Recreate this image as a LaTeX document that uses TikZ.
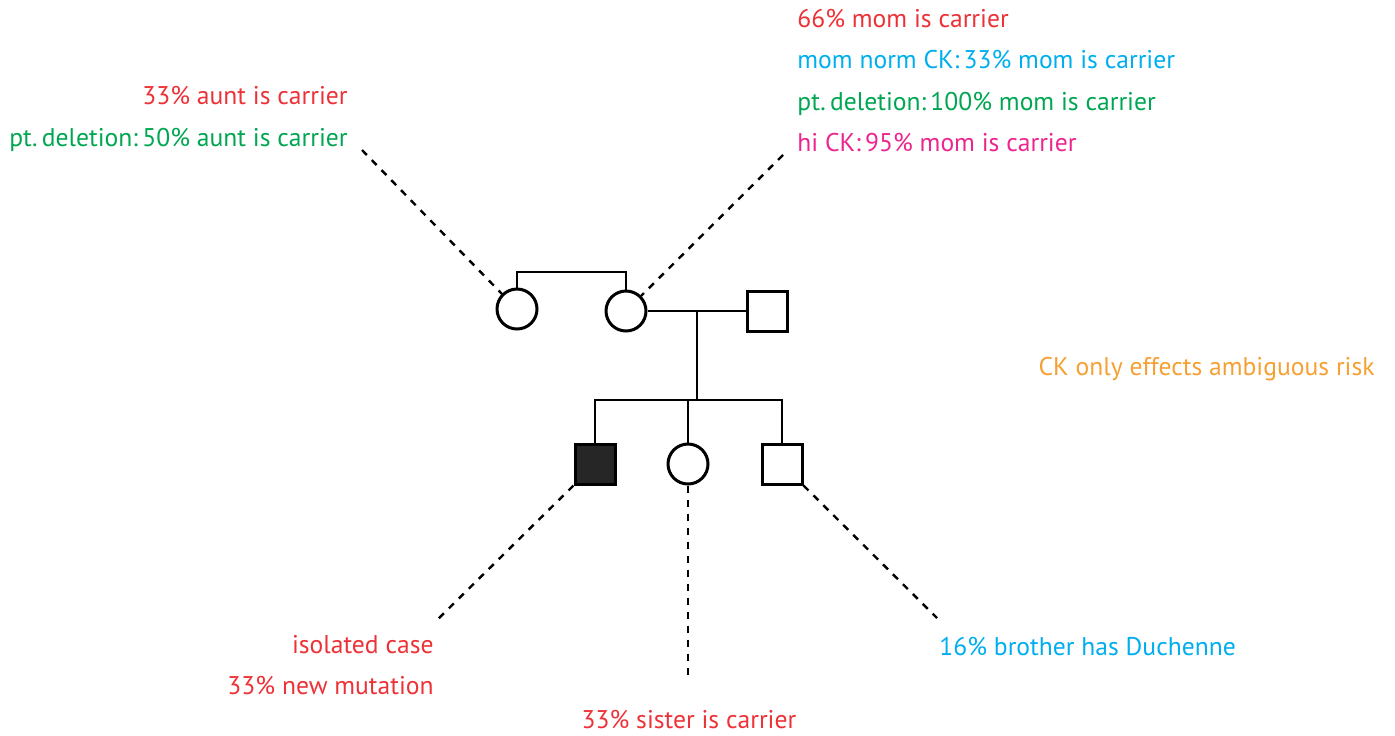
\documentclass[tikz,border=0pt]{standalone}
\usepackage{fontspec}
\setmainfont{PT Sans}
\usepackage{tikz}
\usetikzlibrary{positioning}

\definecolor{riskred}{RGB}{237,50,55}
\definecolor{riskblue}{RGB}{0,174,239}
\definecolor{riskgreen}{RGB}{0,166,81}
\definecolor{riskpink}{RGB}{236,38,143}
\definecolor{riskorange}{RGB}{246,160,52}

\tikzset{
  female/.style={circle,draw,line width=1.5pt,minimum size=20pt,inner sep=0pt},
  male/.style={rectangle,draw,line width=1.5pt,minimum size=20pt,inner sep=0pt},
  affected/.style={male,fill=black!85},
  line/.style={line width=1.2pt},
  pointer/.style={line width=1.2pt,dash pattern=on 3.5pt off 3.5pt},
  note/.style={inner sep=0pt,font=\fontsize{12.8}{15}\selectfont}
}

\begin{document}
\begin{tikzpicture}[x=0.5pt,y=-0.5pt]
    \useasboundingbox (0,0) rectangle (1395,735);

    % people
    \node[female]   (aunt)    at (517,309) {};
    \node[female]   (mom)     at (626,311) {};
    \node[male]     (dad)     at (767,311) {};
    \node[affected] (son)     at (595,464) {};
    \node[female]   (sister)  at (688,464) {};
    \node[male]     (brother) at (782,464) {};

    \coordinate (sibbar)  at (570,272);
    \coordinate (mate)    at (697,311);
    \coordinate (sibship) at (697,400);

    % pedigree lines
    \draw[line] (aunt.north) |- (sibbar) -| (mom.north);
    \draw[line] (mom) -- (dad);
    \draw[line] (mate) -- (sibship);
    \draw[line] (son.north) |- (sibship) -| (brother.north);
    \draw[line] (sister.north) -- (sister.north |- sibship);

    % notes
    \node[note,text=riskred,anchor=base east]   (auntA) at (348,104) {33\% aunt is carrier};
    \node[note,text=riskgreen,anchor=base east] (auntB) at (348,146) {pt.\,deletion:\,50\% aunt is carrier};

    \node[note,text=riskred,anchor=base west]   (momA) at (797,27)  {66\% mom is carrier};
    \node[note,text=riskblue,anchor=base west]  (momB) at (797,68)  {mom norm CK:\,33\% mom is carrier};
    \node[note,text=riskgreen,anchor=base west] (momC) at (797,110) {pt.\,deletion:\,100\% mom is carrier};
    \node[note,text=riskpink,anchor=base west]  (momD) at (797,151) {hi CK:\,95\% mom is carrier};

    \node[note,text=riskorange,anchor=base east] (ck) at (1375,375) {CK only effects ambiguous risk};

    \node[note,text=riskred,anchor=base east] (sonA) at (434,653) {isolated case};
    \node[note,text=riskred,anchor=base east] (sonB) at (434,694) {33\% new mutation};

    \node[note,text=riskred,anchor=base] (sis) at (689,728) {33\% sister is carrier};

    \node[note,text=riskblue,anchor=base west] (bro) at (939,655) {16\% brother has Duchenne};

    % pointers
    \coordinate (auntP) at (362,150);
    \coordinate (momP)  at (783,155);
    \coordinate (sonP)  at (437,620);
    \coordinate (sisP)  at (688,680);
    \coordinate (broP)  at (937,618);

    \draw[pointer] (auntP) -- (aunt.135);
    \draw[pointer] (momP) -- (mom.45);
    \draw[pointer] (son.south west) -- (sonP);
    \draw[pointer] (sister.south) -- (sisP);
    \draw[pointer] (brother.south east) -- (broP);
\end{tikzpicture}
\end{document}
